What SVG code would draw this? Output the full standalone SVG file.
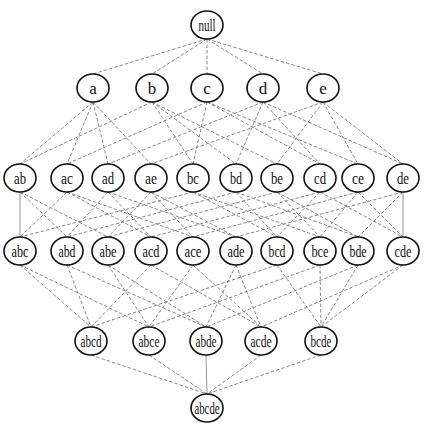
<svg xmlns="http://www.w3.org/2000/svg" width="427" height="426" viewBox="0 0 427 426">
<style>
.e{stroke:#7a7a7a;stroke-width:0.9;stroke-dasharray:3.5,2;fill:none}
.s{stroke:#8a8a8a;stroke-width:0.9;fill:none}
ellipse{fill:#fff;stroke:#111;stroke-width:1.6}
text{font-family:"Liberation Serif","Times New Roman",serif;font-size:17px;fill:#111;text-anchor:middle}
</style>
<rect width="427" height="426" fill="#fff"/>
<g id="edges">
<line class="e" x1="207" y1="39" x2="93" y2="74"/>
<line class="e" x1="207" y1="39" x2="152" y2="74"/>
<line class="e" x1="207" y1="39" x2="207" y2="74"/>
<line class="e" x1="207" y1="39" x2="263" y2="74"/>
<line class="e" x1="207" y1="39" x2="323" y2="74"/>

<line class="e" x1="93" y1="102" x2="20" y2="164"/>
<line class="e" x1="93" y1="102" x2="67" y2="164"/>
<line class="e" x1="93" y1="102" x2="108" y2="164"/>
<line class="e" x1="93" y1="102" x2="151" y2="164"/>
<line class="e" x1="152" y1="102" x2="20" y2="164"/>
<line class="e" x1="152" y1="102" x2="193" y2="164"/>
<line class="e" x1="152" y1="102" x2="236" y2="164"/>
<line class="e" x1="152" y1="102" x2="277" y2="164"/>
<line class="e" x1="207" y1="102" x2="67" y2="164"/>
<line class="e" x1="207" y1="102" x2="193" y2="164"/>
<line class="e" x1="207" y1="102" x2="320" y2="164"/>
<line class="e" x1="207" y1="102" x2="358" y2="164"/>
<line class="e" x1="263" y1="102" x2="108" y2="164"/>
<line class="e" x1="263" y1="102" x2="236" y2="164"/>
<line class="e" x1="263" y1="102" x2="320" y2="164"/>
<line class="e" x1="263" y1="102" x2="403" y2="164"/>
<line class="e" x1="323" y1="102" x2="151" y2="164"/>
<line class="e" x1="323" y1="102" x2="277" y2="164"/>
<line class="e" x1="323" y1="102" x2="358" y2="164"/>
<line class="e" x1="323" y1="102" x2="403" y2="164"/>

<line class="s" x1="20" y1="192" x2="20" y2="237"/>
<line class="e" x1="20" y1="192" x2="67" y2="237"/>
<line class="e" x1="20" y1="192" x2="108" y2="237"/>
<line class="e" x1="67" y1="192" x2="20" y2="237"/>
<line class="e" x1="67" y1="192" x2="151" y2="237"/>
<line class="e" x1="67" y1="192" x2="193" y2="237"/>
<line class="e" x1="108" y1="192" x2="67" y2="237"/>
<line class="e" x1="108" y1="192" x2="151" y2="237"/>
<line class="e" x1="108" y1="192" x2="236" y2="237"/>
<line class="e" x1="151" y1="192" x2="108" y2="237"/>
<line class="e" x1="151" y1="192" x2="193" y2="237"/>
<line class="e" x1="151" y1="192" x2="236" y2="237"/>
<line class="e" x1="193" y1="192" x2="20" y2="237"/>
<line class="e" x1="193" y1="192" x2="277" y2="237"/>
<line class="e" x1="193" y1="192" x2="320" y2="237"/>
<line class="e" x1="236" y1="192" x2="67" y2="237"/>
<line class="e" x1="236" y1="192" x2="277" y2="237"/>
<line class="e" x1="236" y1="192" x2="358" y2="237"/>
<line class="e" x1="277" y1="192" x2="108" y2="237"/>
<line class="e" x1="277" y1="192" x2="320" y2="237"/>
<line class="e" x1="277" y1="192" x2="358" y2="237"/>
<line class="e" x1="320" y1="192" x2="151" y2="237"/>
<line class="e" x1="320" y1="192" x2="277" y2="237"/>
<line class="e" x1="320" y1="192" x2="403" y2="237"/>
<line class="e" x1="358" y1="192" x2="193" y2="237"/>
<line class="e" x1="358" y1="192" x2="320" y2="237"/>
<line class="e" x1="358" y1="192" x2="403" y2="237"/>
<line class="e" x1="403" y1="192" x2="236" y2="237"/>
<line class="e" x1="403" y1="192" x2="358" y2="237"/>
<line class="s" x1="403" y1="192" x2="403" y2="237"/>

<line class="e" x1="20" y1="265" x2="91" y2="327"/>
<line class="e" x1="20" y1="265" x2="149" y2="327"/>
<line class="e" x1="67" y1="265" x2="91" y2="327"/>
<line class="e" x1="67" y1="265" x2="206" y2="327"/>
<line class="e" x1="108" y1="265" x2="149" y2="327"/>
<line class="e" x1="108" y1="265" x2="206" y2="327"/>
<line class="e" x1="151" y1="265" x2="91" y2="327"/>
<line class="e" x1="151" y1="265" x2="261" y2="327"/>
<line class="e" x1="193" y1="265" x2="149" y2="327"/>
<line class="e" x1="193" y1="265" x2="261" y2="327"/>
<line class="e" x1="236" y1="265" x2="206" y2="327"/>
<line class="e" x1="236" y1="265" x2="261" y2="327"/>
<line class="e" x1="277" y1="265" x2="91" y2="327"/>
<line class="e" x1="277" y1="265" x2="321" y2="327"/>
<line class="e" x1="320" y1="265" x2="149" y2="327"/>
<line class="e" x1="320" y1="265" x2="321" y2="327"/>
<line class="e" x1="358" y1="265" x2="206" y2="327"/>
<line class="e" x1="358" y1="265" x2="321" y2="327"/>
<line class="e" x1="403" y1="265" x2="261" y2="327"/>
<line class="e" x1="403" y1="265" x2="321" y2="327"/>

<line class="e" x1="91" y1="355" x2="207" y2="394"/>
<line class="e" x1="149" y1="355" x2="207" y2="394"/>
<line class="s" x1="206" y1="355" x2="207" y2="394"/>
<line class="e" x1="261" y1="355" x2="207" y2="394"/>
<line class="e" x1="321" y1="355" x2="207" y2="394"/>
</g>

<g id="n-null"><ellipse cx="207" cy="25" rx="16" ry="14"/><text x="207" y="30.5" textLength="17" lengthAdjust="spacingAndGlyphs">null</text></g>

<g id="n-a"><ellipse cx="93" cy="88" rx="16" ry="14"/><text x="93" y="93.5">a</text></g>
<g id="n-b"><ellipse cx="152" cy="88" rx="16" ry="14"/><text x="152" y="93.5">b</text></g>
<g id="n-c"><ellipse cx="207" cy="88" rx="16" ry="14"/><text x="207" y="93.5">c</text></g>
<g id="n-d"><ellipse cx="263" cy="88" rx="16" ry="14"/><text x="263" y="93.5">d</text></g>
<g id="n-e"><ellipse cx="323" cy="88" rx="16" ry="14"/><text x="323" y="93.5">e</text></g>

<g id="n-ab"><ellipse cx="20" cy="178" rx="16" ry="14"/><text x="20" y="183.5" textLength="12" lengthAdjust="spacingAndGlyphs">ab</text></g>
<g id="n-ac"><ellipse cx="67" cy="178" rx="16" ry="14"/><text x="67" y="183.5" textLength="12" lengthAdjust="spacingAndGlyphs">ac</text></g>
<g id="n-ad"><ellipse cx="108" cy="178" rx="16" ry="14"/><text x="108" y="183.5" textLength="12" lengthAdjust="spacingAndGlyphs">ad</text></g>
<g id="n-ae"><ellipse cx="151" cy="178" rx="16" ry="14"/><text x="151" y="183.5" textLength="12" lengthAdjust="spacingAndGlyphs">ae</text></g>
<g id="n-bc"><ellipse cx="193" cy="178" rx="16" ry="14"/><text x="193" y="183.5" textLength="12" lengthAdjust="spacingAndGlyphs">bc</text></g>
<g id="n-bd"><ellipse cx="236" cy="178" rx="16" ry="14"/><text x="236" y="183.5" textLength="12" lengthAdjust="spacingAndGlyphs">bd</text></g>
<g id="n-be"><ellipse cx="277" cy="178" rx="16" ry="14"/><text x="277" y="183.5" textLength="12" lengthAdjust="spacingAndGlyphs">be</text></g>
<g id="n-cd"><ellipse cx="320" cy="178" rx="16" ry="14"/><text x="320" y="183.5" textLength="12" lengthAdjust="spacingAndGlyphs">cd</text></g>
<g id="n-ce"><ellipse cx="358" cy="178" rx="16" ry="14"/><text x="358" y="183.5" textLength="12" lengthAdjust="spacingAndGlyphs">ce</text></g>
<g id="n-de"><ellipse cx="403" cy="178" rx="16" ry="14"/><text x="403" y="183.5" textLength="12" lengthAdjust="spacingAndGlyphs">de</text></g>

<g id="n-abc"><ellipse cx="20" cy="251" rx="16" ry="14"/><text x="20" y="256.5" textLength="17" lengthAdjust="spacingAndGlyphs">abc</text></g>
<g id="n-abd"><ellipse cx="67" cy="251" rx="16" ry="14"/><text x="67" y="256.5" textLength="17" lengthAdjust="spacingAndGlyphs">abd</text></g>
<g id="n-abe"><ellipse cx="108" cy="251" rx="16" ry="14"/><text x="108" y="256.5" textLength="17" lengthAdjust="spacingAndGlyphs">abe</text></g>
<g id="n-acd"><ellipse cx="151" cy="251" rx="16" ry="14"/><text x="151" y="256.5" textLength="17" lengthAdjust="spacingAndGlyphs">acd</text></g>
<g id="n-ace"><ellipse cx="193" cy="251" rx="16" ry="14"/><text x="193" y="256.5" textLength="17" lengthAdjust="spacingAndGlyphs">ace</text></g>
<g id="n-ade"><ellipse cx="236" cy="251" rx="16" ry="14"/><text x="236" y="256.5" textLength="17" lengthAdjust="spacingAndGlyphs">ade</text></g>
<g id="n-bcd"><ellipse cx="277" cy="251" rx="16" ry="14"/><text x="277" y="256.5" textLength="17" lengthAdjust="spacingAndGlyphs">bcd</text></g>
<g id="n-bce"><ellipse cx="320" cy="251" rx="16" ry="14"/><text x="320" y="256.5" textLength="17" lengthAdjust="spacingAndGlyphs">bce</text></g>
<g id="n-bde"><ellipse cx="358" cy="251" rx="16" ry="14"/><text x="358" y="256.5" textLength="17" lengthAdjust="spacingAndGlyphs">bde</text></g>
<g id="n-cde"><ellipse cx="403" cy="251" rx="16" ry="14"/><text x="403" y="256.5" textLength="17" lengthAdjust="spacingAndGlyphs">cde</text></g>

<g id="n-abcd"><ellipse cx="91" cy="341" rx="16" ry="14"/><text x="91" y="346.5" textLength="21" lengthAdjust="spacingAndGlyphs">abcd</text></g>
<g id="n-abce"><ellipse cx="149" cy="341" rx="16" ry="14"/><text x="149" y="346.5" textLength="21" lengthAdjust="spacingAndGlyphs">abce</text></g>
<g id="n-abde"><ellipse cx="206" cy="341" rx="16" ry="14"/><text x="206" y="346.5" textLength="21" lengthAdjust="spacingAndGlyphs">abde</text></g>
<g id="n-acde"><ellipse cx="261" cy="341" rx="16" ry="14"/><text x="261" y="346.5" textLength="21" lengthAdjust="spacingAndGlyphs">acde</text></g>
<g id="n-bcde"><ellipse cx="321" cy="341" rx="16" ry="14"/><text x="321" y="346.5" textLength="21" lengthAdjust="spacingAndGlyphs">bcde</text></g>

<g id="n-abcde"><ellipse cx="207" cy="408" rx="16" ry="14"/><text x="207" y="413.5" textLength="25" lengthAdjust="spacingAndGlyphs">abcde</text></g>
</svg>
